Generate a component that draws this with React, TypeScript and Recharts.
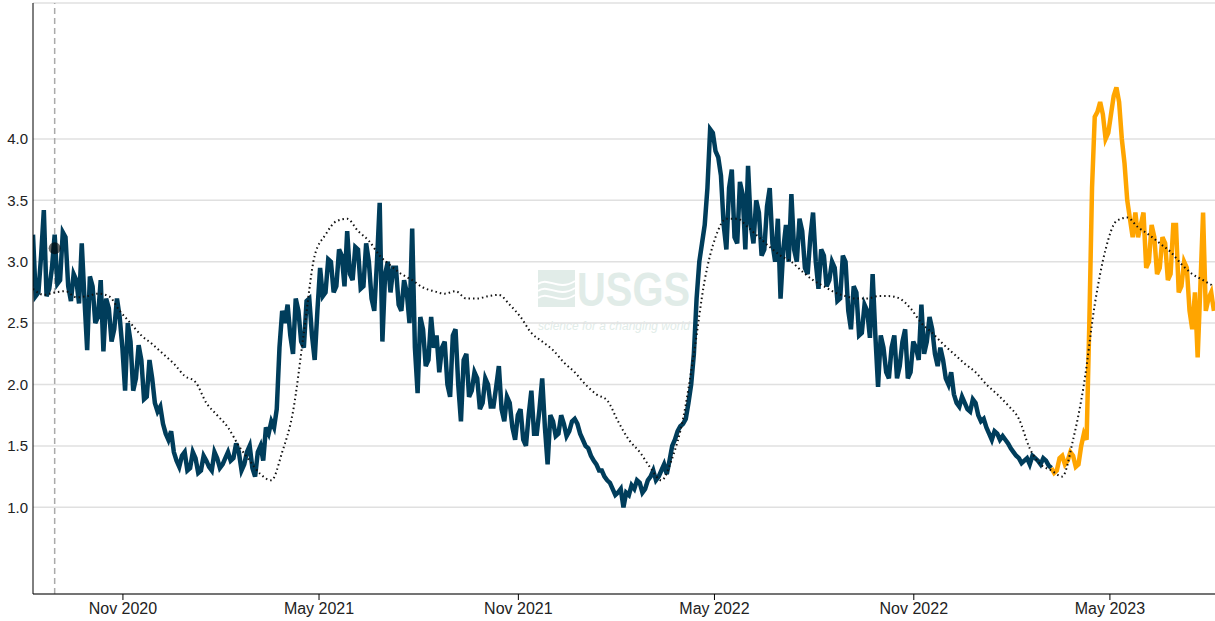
import React from "react";
import {
  LineChart,
  Line,
  XAxis,
  YAxis,
  CartesianGrid,
  ReferenceLine,
  ReferenceDot,
} from "recharts";

const DAY = 86400000;
const START = Date.UTC(2020, 7, 10);
const X_END = START + 1091 * DAY;
const STEP_DAYS = 2.5;
const REF_STEP_DAYS = 10;

// Approved series (blue), one value every 2.5 days from Aug 10 2020
const approvedValues = [
  3.22, 2.72, 2.75, 3.05, 3.42, 2.72, 2.78, 2.95, 3.22, 2.82,
  2.85, 3.24, 3.2, 2.8, 2.68, 2.9, 2.85, 2.66, 3.15, 2.7,
  2.28, 2.88, 2.8, 2.5, 2.55, 2.85, 2.27, 2.7, 2.62, 2.35,
  2.45, 2.7, 2.55, 2.3, 1.95, 2.5, 2.35, 1.95, 2.05, 2.32,
  2.2, 1.88, 1.9, 2.2, 2.05, 1.85, 1.78, 1.82, 1.68, 1.6,
  1.55, 1.62, 1.45, 1.38, 1.33, 1.42, 1.45, 1.3, 1.32, 1.45,
  1.4, 1.28, 1.3, 1.42, 1.38, 1.33, 1.3, 1.45, 1.4, 1.32,
  1.35, 1.4, 1.45, 1.38, 1.4, 1.52, 1.45, 1.3, 1.35, 1.45,
  1.5, 1.32, 1.25, 1.45, 1.5, 1.38, 1.65, 1.6, 1.7, 1.65,
  1.8, 2.3, 2.6, 2.5, 2.65, 2.4, 2.25, 2.7, 2.6, 2.35,
  2.3, 2.68, 2.7, 2.4, 2.2, 2.6, 2.95, 2.72, 2.75, 3.02,
  3.0, 2.75, 2.8, 3.1, 3.05, 2.8, 3.25, 2.9, 2.85, 3.12,
  3.1, 2.78, 2.8, 3.15, 3.0, 2.7, 2.6, 3.0, 3.48, 2.35,
  2.9, 3.0, 2.75, 2.95, 2.95, 2.65, 2.6, 2.85, 2.75, 2.5,
  3.27, 2.3, 1.93, 2.55, 2.45, 2.15, 2.2, 2.55, 2.3, 2.4,
  2.1, 2.3, 2.35, 2.0, 1.9, 2.4, 2.45, 2.0, 1.7, 2.2,
  2.25, 1.9, 1.95, 2.1, 2.05, 1.8, 1.85, 2.05, 2.0, 1.82,
  1.82, 1.98, 2.15, 1.8, 1.7, 1.9, 1.85, 1.65, 1.55, 1.75,
  1.8, 1.55, 1.5, 1.75, 1.95, 1.6, 1.6, 1.8, 2.05, 1.65,
  1.35, 1.75, 1.7, 1.58, 1.6, 1.75, 1.68, 1.58, 1.62, 1.7,
  1.72, 1.68, 1.6, 1.55, 1.5, 1.48, 1.42, 1.38, 1.35, 1.3,
  1.3, 1.25, 1.22, 1.2, 1.15, 1.1, 1.12, 1.15, 1.0, 1.12,
  1.1, 1.18, 1.15, 1.22, 1.2, 1.12, 1.15, 1.22, 1.25, 1.3,
  1.22, 1.25, 1.3, 1.35, 1.27, 1.38, 1.5, 1.55, 1.62, 1.66,
  1.68, 1.72, 1.85, 2.0, 2.25, 2.7, 3.0, 3.15, 3.3, 3.6,
  4.08, 4.05, 3.9, 3.85, 3.7, 3.3, 3.1, 3.6, 3.75, 3.2,
  3.15, 3.65, 3.55, 3.1, 3.78, 3.3, 3.15, 3.5, 3.4, 3.05,
  3.1, 3.45, 3.6, 3.15, 3.0, 3.35, 2.7, 3.1, 3.3, 3.0,
  3.55, 3.1, 3.0, 3.35, 3.25, 2.95, 2.9, 3.2, 3.4, 3.0,
  2.78, 3.1, 3.05, 2.8, 2.85, 3.0, 2.95, 2.68, 2.7, 3.05,
  3.0, 2.6, 2.45, 2.8, 2.75, 2.4, 2.42, 2.65, 2.6, 2.38,
  2.9, 2.4, 1.98, 2.4, 2.3, 2.1, 2.05, 2.3, 2.4, 2.05,
  2.15, 2.35, 2.45, 2.05, 2.1, 2.35, 2.3, 2.2, 2.65, 2.25,
  2.35, 2.55, 2.45, 2.25, 2.15, 2.3, 2.2, 2.05, 2.0, 2.1,
  1.92, 1.85, 1.82, 1.9, 1.85, 1.8, 1.78, 1.88, 1.85, 1.75,
  1.7, 1.72, 1.65, 1.6, 1.55, 1.62, 1.6, 1.55, 1.58, 1.55,
  1.52, 1.48, 1.45, 1.42, 1.4, 1.36, 1.38, 1.4, 1.35, 1.42,
  1.4, 1.38, 1.35, 1.4, 1.38, 1.34, 1.32,
];

// Provisional series (orange), continues from index 376
const provisionalStartIndex = 376;
const provisionalValues = [
  1.32, 1.28, 1.3, 1.4, 1.42, 1.35, 1.38, 1.45, 1.42, 1.33,
  1.35, 1.5, 1.6, 1.55, 2.5, 3.6, 4.18, 4.22, 4.3, 4.2,
  4.0, 4.05, 4.2, 4.35, 4.42, 4.3, 4.0, 3.8, 3.5, 3.35,
  3.2, 3.4, 3.2, 3.3, 3.4, 2.95, 3.0, 3.3, 3.2, 2.9,
  2.95, 3.2, 3.15, 2.85, 2.9, 3.3, 3.3, 2.75, 2.8, 3.0,
  2.95, 2.6, 2.45, 2.75, 2.22, 2.8, 3.4, 2.6, 2.7, 2.75,
  2.6,
];

// Comparison series (black dotted), one value every 10 days
const referenceValues = [
  2.78, 2.73, 2.75, 2.76, 2.71, 2.72, 2.74, 2.72, 2.6, 2.5,
  2.4, 2.33, 2.25, 2.17, 2.07, 2.02, 1.85, 1.75, 1.65, 1.5,
  1.38, 1.27, 1.22, 1.45, 1.78, 2.42, 3.05, 3.22, 3.33, 3.35,
  3.25, 3.17, 3.05, 2.97, 2.9, 2.85, 2.79, 2.76, 2.74, 2.76,
  2.7, 2.7, 2.72, 2.73, 2.65, 2.55, 2.42, 2.35, 2.28, 2.18,
  2.1, 2.0, 1.92, 1.87, 1.7, 1.55, 1.45, 1.32, 1.22, 1.4,
  1.72, 2.25, 2.85, 3.2, 3.35, 3.35, 3.28, 3.2, 3.12, 3.05,
  3.0, 2.92, 2.85, 2.8, 2.75, 2.72, 2.7, 2.7, 2.72, 2.72,
  2.7, 2.62, 2.5, 2.42, 2.33, 2.25, 2.17, 2.1, 2.0, 1.92,
  1.83, 1.72, 1.48, 1.35, 1.3, 1.25, 1.55, 2.0, 2.65, 3.1,
  3.33, 3.36, 3.28, 3.22, 3.15, 3.08, 2.98, 2.9, 2.85, 2.8,
];

const tickDates = [
  Date.UTC(2020, 10, 1),
  Date.UTC(2021, 4, 1),
  Date.UTC(2021, 10, 1),
  Date.UTC(2022, 4, 1),
  Date.UTC(2022, 10, 1),
  Date.UTC(2023, 4, 1),
];
const tickLabels = ["Nov 2020", "May 2021", "Nov 2021", "May 2022", "Nov 2022", "May 2023"];
const yTicks = [1.0, 1.5, 2.0, 2.5, 3.0, 3.5, 4.0];
const Y_DOMAIN: [number, number] = [0.294, 5.107];

const markerDate = Date.UTC(2020, 7, 30);
const markerValue = 3.11;

const approvedData = approvedValues.map((v, i) => ({ t: START + i * STEP_DAYS * DAY, v }));
const provisionalData = provisionalValues.map((v, i) => ({
  t: START + (provisionalStartIndex + i) * STEP_DAYS * DAY,
  v,
}));
const referenceData = referenceValues.map((v, i) => ({ t: START + i * REF_STEP_DAYS * DAY, v }));

const FONT = "'Liberation Sans', Arial, Helvetica, sans-serif";

function formatTick(t: number) {
  const idx = tickDates.indexOf(t);
  return idx >= 0 ? tickLabels[idx] : "";
}

function Watermark() {
  const c = "#e1ece8";
  return (
    <svg
      width={1215}
      height={621}
      style={{ position: "absolute", left: 0, top: 0, pointerEvents: "none" }}
    >
      <rect x={538} y={270} width={37} height={37} fill={c} />
      <path d="M538 284 C548 276, 558 292, 575 281" stroke="#fff" strokeWidth={2} fill="none" />
      <path d="M538 291 C548 283, 558 299, 575 288" stroke="#fff" strokeWidth={2} fill="none" />
      <path d="M538 298 C548 290, 558 306, 575 295" stroke="#fff" strokeWidth={2} fill="none" />
      <text
        x={577}
        y={306}
        fontFamily={FONT}
        fontWeight="bold"
        fontSize={49}
        fill={c}
        textLength={113}
        lengthAdjust="spacingAndGlyphs"
      >
        USGS
      </text>
      <text
        x={538}
        y={330}
        fontFamily={FONT}
        fontStyle="italic"
        fontSize={12.5}
        fill={c}
        textLength={152}
        lengthAdjust="spacingAndGlyphs"
      >
        science for a changing world
      </text>
    </svg>
  );
}

export default function App() {
  return (
    <div style={{ position: "relative", width: 1215, height: 621 }}>
      <style>{`body{margin:0;}`}</style>
      <Watermark />
      <LineChart width={1215} height={621} margin={{ top: 3, right: 0, bottom: 0, left: 0 }}>
        <CartesianGrid vertical={false} stroke="#e0e0e0" strokeWidth={1.5} />
        <XAxis
          dataKey="t"
          type="number"
          domain={[START, X_END]}
          allowDataOverflow
          ticks={tickDates}
          tickFormatter={formatTick}
          height={27}
          tickSize={6}
          tickMargin={3}
          axisLine={{ stroke: "#000" }}
          tickLine={{ stroke: "#000" }}
          tick={{ fontSize: 16, fill: "#222", fontFamily: FONT }}
        />
        <YAxis
          type="number"
          domain={Y_DOMAIN}
          allowDataOverflow
          ticks={yTicks}
          tickFormatter={(v: number) => v.toFixed(1)}
          width={33}
          tickLine={false}
          tickSize={0}
          tickMargin={5}
          axisLine={{ stroke: "#000" }}
          tick={{ fontSize: 15, fill: "#222", fontFamily: FONT }}
        />
        <ReferenceLine x={markerDate} stroke="#aaaaaa" strokeWidth={1.5} strokeDasharray="6 4" />
        <Line
          data={approvedData}
          dataKey="v"
          type="linear"
          stroke="#003d5b"
          strokeWidth={4.5}
          dot={false}
          activeDot={false}
          isAnimationActive={false}
        />
        <Line
          data={provisionalData}
          dataKey="v"
          type="linear"
          stroke="#ffa500"
          strokeWidth={4.5}
          dot={false}
          activeDot={false}
          isAnimationActive={false}
        />
        <Line
          data={referenceData}
          dataKey="v"
          type="monotone"
          stroke="#111"
          strokeWidth={2}
          strokeDasharray="1.5 3"
          dot={false}
          activeDot={false}
          isAnimationActive={false}
        />
        <ReferenceDot x={markerDate} y={markerValue} r={6} fill="#000" fillOpacity={0.6} stroke="none" />
      </LineChart>
    </div>
  );
}
